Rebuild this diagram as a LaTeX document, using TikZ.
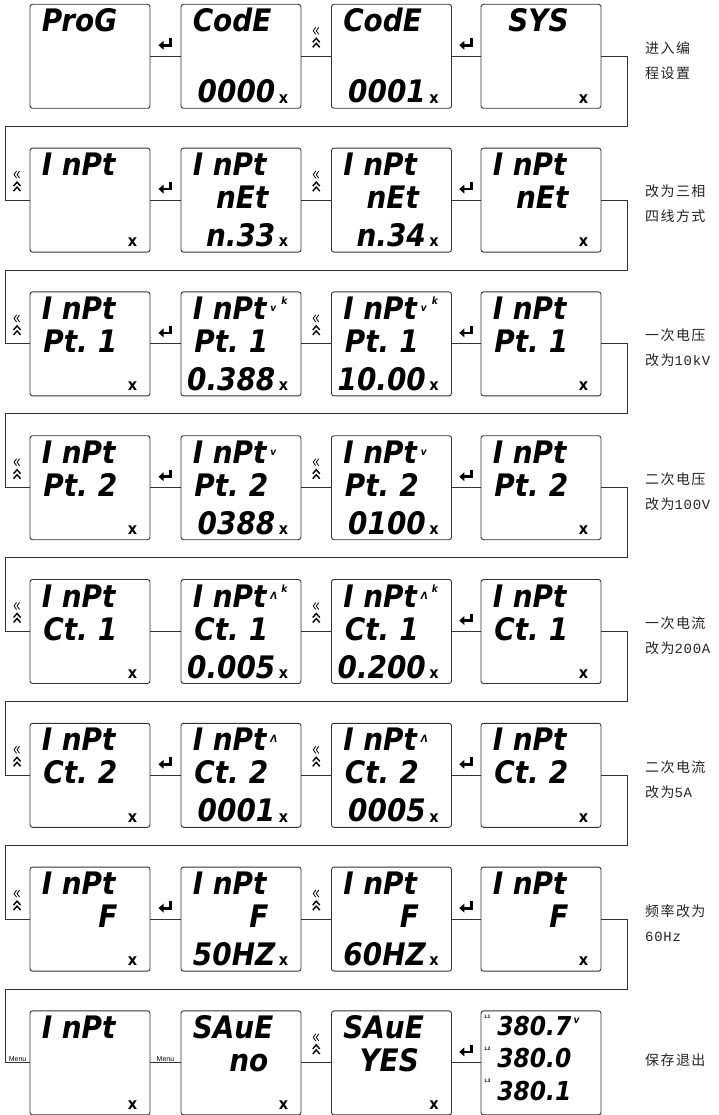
\documentclass[tikz,border=0pt]{standalone}
\usepackage{fontspec}
\setsansfont{Liberation Sans}
\newfontfamily\lcdfont[FakeStretch=0.9]{DejaVu Sans}
\newfontfamily\cjk[LetterSpace=10]{Noto Sans CJK SC}
\newfontfamily\asc[LetterSpace=5]{Liberation Mono}
\usetikzlibrary{arrows.meta,positioning,calc}
\tikzset{
  dispbox/.style={draw=black!80, line width=0.9pt, rounded corners=2.5pt,
                  minimum width=120pt, minimum height=104pt, inner sep=0pt, fill=white},
  lcdrow/.style={inner sep=0pt, font=\lcdfont\bfseries\itshape\fontsize{31}{31}\selectfont},
  lcdmeter/.style={inner sep=0pt, font=\lcdfont\bfseries\itshape\fontsize{26}{26}\selectfont},
  xmark/.style={inner sep=0pt, font=\lcdfont\bfseries\fontsize{16}{16}\selectfont},
  unitmark/.style={inner sep=0pt, font=\lcdfont\bfseries\itshape\fontsize{10}{10}\selectfont},
  ltag/.style={inner sep=0pt, font=\sffamily\bfseries\fontsize{5}{5}\selectfont},
  wire/.style={draw=black!80, line width=0.9pt},
  note/.style={anchor=west, align=left, inner sep=0pt, text=black!85,
               font=\cjk\fontsize{14}{25}\selectfont},
  menu/.style={anchor=south, inner sep=1pt, font=\sffamily\fontsize{7}{7}\selectfont},
  enter/.pic={\draw[line width=2.8pt, -{Triangle[length=5pt,width=8.5pt]}] (5,-18) |- (-7,-11);},
  chev/.pic={
    \draw[line width=0.8pt] (-0.5,-29) -- (-3,-25.5) -- (-0.5,-22)
                            (2.5,-29) -- (0,-25.5) -- (2.5,-22);
    \draw[line width=1.4pt] (-3.5,-14) -- (0,-18) -- (3.5,-14)
                            (-3.5,-9) -- (0,-13) -- (3.5,-9);},
}
% one display: [mark]{name}{centre}{line 1}{line 2}{line 3}
\newcommand{\lcdbox}[6][x]{%
  \node[dispbox] (#2) at (#3) {};
  \node[lcdrow, anchor=base west] (#2-a) at ($(#2.north west)+(12,28)$) {#4};
  \node[lcdrow, anchor=base east] (#2-b) at ($(#2.north west)+(88,61)$) {#5};
  \node[lcdrow, anchor=base east] (#2-c) at ($(#2.north west)+(95,99)$) {#6};
  \node[xmark] (#2-x) at ($(#2.south east)+(-18,-10)$) {#1};
}
\newcommand{\lcdsplit}[2]{\makebox[74pt][s]{#1\hfill #2}}
\newcommand{\unitv}{\rlap{\kern4pt\raisebox{8pt}{\fontsize{10}{10}\selectfont v}}}
\newcommand{\unitvk}{\rlap{\kern4pt\raisebox{8pt}{\fontsize{10}{10}\selectfont v}\kern5pt\raisebox{15pt}{\fontsize{10}{10}\selectfont k}}}
\newcommand{\unita}{\rlap{\kern4pt\raisebox{8pt}{\fontsize{10}{10}\selectfont Λ}}}
\newcommand{\unitak}{\rlap{\kern4pt\raisebox{8pt}{\fontsize{10}{10}\selectfont Λ}\kern4pt\raisebox{15pt}{\fontsize{10}{10}\selectfont k}}}

\begin{document}
\begin{tikzpicture}[x=1pt,y=-1pt]
  \path[use as bounding box, fill=white] (0,0) rectangle (718,1115);

  % row 1
  \lcdbox[]{r1d1}{90,56.3}{ProG}{}{}
  \lcdbox{r1d2}{241,56.3}{CodE}{}{0000}
  \lcdbox{r1d3}{391.5,56.3}{CodE}{}{0001}
  \lcdbox{r1d4}{541,56.3}{\makebox[76pt][r]{SYS}}{}{}
  % row 2
  \lcdbox{r2d1}{90,200.1}{I nPt}{}{}
  \lcdbox{r2d2}{241,200.1}{I nPt}{nEt}{n.33}
  \lcdbox{r2d3}{391.5,200.1}{I nPt}{nEt}{n.34}
  \lcdbox{r2d4}{541,200.1}{I nPt}{nEt}{}
  % row 3
  \lcdbox{r3d1}{90,343.9}{I nPt}{\lcdsplit{Pt.}{1}}{}
  \lcdbox{r3d2}{241,343.9}{I nPt\unitvk}{\lcdsplit{Pt.}{1}}{0.388}
  \lcdbox{r3d3}{391.5,343.9}{I nPt\unitvk}{\lcdsplit{Pt.}{1}}{10.00}
  \lcdbox{r3d4}{541,343.9}{I nPt}{\lcdsplit{Pt.}{1}}{}
  % row 4
  \lcdbox{r4d1}{90,487.7}{I nPt}{\lcdsplit{Pt.}{2}}{}
  \lcdbox{r4d2}{241,487.7}{I nPt\unitv}{\lcdsplit{Pt.}{2}}{0388}
  \lcdbox{r4d3}{391.5,487.7}{I nPt\unitv}{\lcdsplit{Pt.}{2}}{0100}
  \lcdbox{r4d4}{541,487.7}{I nPt}{\lcdsplit{Pt.}{2}}{}
  % row 5
  \lcdbox{r5d1}{90,631.5}{I nPt}{\lcdsplit{Ct.}{1}}{}
  \lcdbox{r5d2}{241,631.5}{I nPt\unitak}{\lcdsplit{Ct.}{1}}{0.005}
  \lcdbox{r5d3}{391.5,631.5}{I nPt\unitak}{\lcdsplit{Ct.}{1}}{0.200}
  \lcdbox{r5d4}{541,631.5}{I nPt}{\lcdsplit{Ct.}{1}}{}
  % row 6
  \lcdbox{r6d1}{90,775.3}{I nPt}{\lcdsplit{Ct.}{2}}{}
  \lcdbox{r6d2}{241,775.3}{I nPt\unita}{\lcdsplit{Ct.}{2}}{0001}
  \lcdbox{r6d3}{391.5,775.3}{I nPt\unita}{\lcdsplit{Ct.}{2}}{0005}
  \lcdbox{r6d4}{541,775.3}{I nPt}{\lcdsplit{Ct.}{2}}{}
  % row 7
  \lcdbox{r7d1}{90,919.1}{I nPt}{F}{}
  \lcdbox{r7d2}{241,919.1}{I nPt}{F}{50HZ}
  \lcdbox{r7d3}{391.5,919.1}{I nPt}{F}{60HZ}
  \lcdbox{r7d4}{541,919.1}{I nPt}{F}{}
  % row 8
  \lcdbox{r8d1}{90,1062.9}{I nPt}{}{}
  \lcdbox{r8d2}{241,1062.9}{SAuE}{no}{}
  \lcdbox{r8d3}{391.5,1062.9}{SAuE}{YES}{}
  \node[dispbox] (r8d4) at (541,1062.9) {};
  \node[lcdmeter, anchor=base east] (r8d4-a) at ($(r8d4.north west)+(91,25)$) {380.7};
  \node[lcdmeter, anchor=base east] (r8d4-b) at ($(r8d4.north west)+(91,57)$) {380.0};
  \node[lcdmeter, anchor=base east] (r8d4-c) at ($(r8d4.north west)+(91,90)$) {380.1};
  \node[unitmark] (r8d4-v) at ($(r8d4.north west)+(96,10)$) {v};
  \node[ltag] (r8d4-l1) at ($(r8d4.north west)+(7,6)$) {L1};
  \node[ltag] (r8d4-l2) at ($(r8d4.north west)+(7,38)$) {L2};
  \node[ltag] (r8d4-l3) at ($(r8d4.north west)+(7,70)$) {L3};

  % links inside the rows
  \draw[wire] (r1d1) -- (r1d2) (r1d2) -- (r1d3) (r1d3) -- (r1d4);
  \draw[wire] (r2d1) -- (r2d2) (r2d2) -- (r2d3) (r2d3) -- (r2d4);
  \draw[wire] (r3d1) -- (r3d2) (r3d2) -- (r3d3) (r3d3) -- (r3d4);
  \draw[wire] (r4d1) -- (r4d2) (r4d2) -- (r4d3) (r4d3) -- (r4d4);
  \draw[wire] (r5d1) -- (r5d2) (r5d2) -- (r5d3) (r5d3) -- (r5d4);
  \draw[wire] (r6d1) -- (r6d2) (r6d2) -- (r6d3) (r6d3) -- (r6d4);
  \draw[wire] (r7d1) -- (r7d2) (r7d2) -- (r7d3) (r7d3) -- (r7d4);
  \draw[wire] (r8d1) -- (r8d2) (r8d2) -- (r8d3) (r8d3) -- (r8d4);

  % links from row to row
  \coordinate (bendR1) at (627,126.3);  \coordinate (bendL1) at (5,126.3);
  \coordinate (bendR2) at (627,270.1);  \coordinate (bendL2) at (5,270.1);
  \coordinate (bendR3) at (627,413.9);  \coordinate (bendL3) at (5,413.9);
  \coordinate (bendR4) at (627,557.7);  \coordinate (bendL4) at (5,557.7);
  \coordinate (bendR5) at (627,701.5);  \coordinate (bendL5) at (5,701.5);
  \coordinate (bendR6) at (627,845.3);  \coordinate (bendL6) at (5,845.3);
  \coordinate (bendR7) at (627,989.1);  \coordinate (bendL7) at (5,989.1);
  \draw[wire] (r1d4.east) -| (bendR1) -- (bendL1) |- (r2d1.west);
  \draw[wire] (r2d4.east) -| (bendR2) -- (bendL2) |- (r3d1.west);
  \draw[wire] (r3d4.east) -| (bendR3) -- (bendL3) |- (r4d1.west);
  \draw[wire] (r4d4.east) -| (bendR4) -- (bendL4) |- (r5d1.west);
  \draw[wire] (r5d4.east) -| (bendR5) -- (bendL5) |- (r6d1.west);
  \draw[wire] (r6d4.east) -| (bendR6) -- (bendL6) |- (r7d1.west);
  \draw[wire] (r7d4.east) -| (bendR7) -- (bendL7) |- (r8d1.west);

  % key icons
  \pic at ($(r1d1.east)!0.5!(r1d2.west)$) {enter};
  \pic at ($(r1d2.east)!0.5!(r1d3.west)$) {chev};
  \pic at ($(r1d3.east)!0.5!(r1d4.west)$) {enter};
  \pic at ($(r2d1.west)+(-12.5,0)$) {chev};
  \pic at ($(r2d1.east)!0.5!(r2d2.west)$) {enter};
  \pic at ($(r2d2.east)!0.5!(r2d3.west)$) {chev};
  \pic at ($(r2d3.east)!0.5!(r2d4.west)$) {enter};
  \pic at ($(r3d1.west)+(-12.5,0)$) {chev};
  \pic at ($(r3d1.east)!0.5!(r3d2.west)$) {enter};
  \pic at ($(r3d2.east)!0.5!(r3d3.west)$) {chev};
  \pic at ($(r3d3.east)!0.5!(r3d4.west)$) {enter};
  \pic at ($(r4d1.west)+(-12.5,0)$) {chev};
  \pic at ($(r4d1.east)!0.5!(r4d2.west)$) {enter};
  \pic at ($(r4d2.east)!0.5!(r4d3.west)$) {chev};
  \pic at ($(r4d3.east)!0.5!(r4d4.west)$) {enter};
  \pic at ($(r5d1.west)+(-12.5,0)$) {chev};
  \pic at ($(r5d2.east)!0.5!(r5d3.west)$) {chev};
  \pic at ($(r5d3.east)!0.5!(r5d4.west)$) {enter};
  \pic at ($(r6d1.west)+(-12.5,0)$) {chev};
  \pic at ($(r6d1.east)!0.5!(r6d2.west)$) {enter};
  \pic at ($(r6d2.east)!0.5!(r6d3.west)$) {chev};
  \pic at ($(r6d3.east)!0.5!(r6d4.west)$) {enter};
  \pic at ($(r7d1.west)+(-12.5,0)$) {chev};
  \pic at ($(r7d1.east)!0.5!(r7d2.west)$) {enter};
  \pic at ($(r7d2.east)!0.5!(r7d3.west)$) {chev};
  \pic at ($(r7d3.east)!0.5!(r7d4.west)$) {enter};
  \node[menu] (menu1) at ($(r8d1.west)+(-12,0)$) {Menu};
  \node[menu] (menu2) at ($(r8d1.east)!0.5!(r8d2.west)$) {Menu};
  \pic at ($(r8d2.east)!0.5!(r8d3.west)$) {chev};
  \pic at ($(r8d3.east)!0.5!(r8d4.west)$) {enter};

  % notes on the right
  \node[note] (note1) at (645,60.3) {进入编\\程设置};
  \node[note] (note2) at (645,204.1) {改为三相\\四线方式};
  \node[note] (note3) at (645,347.9) {一次电压\\改为{\asc 10kV}};
  \node[note] (note4) at (645,491.7) {二次电压\\改为{\asc 100V}};
  \node[note] (note5) at (645,635.5) {一次电流\\改为{\asc 200A}};
  \node[note] (note6) at (645,779.3) {二次电流\\改为{\asc 5A}};
  \node[note] (note7) at (645,923.1) {频率改为\\{\asc 60Hz}};
  \node[note] (note8) at (645,1059.9) {保存退出};
\end{tikzpicture}
\end{document}
